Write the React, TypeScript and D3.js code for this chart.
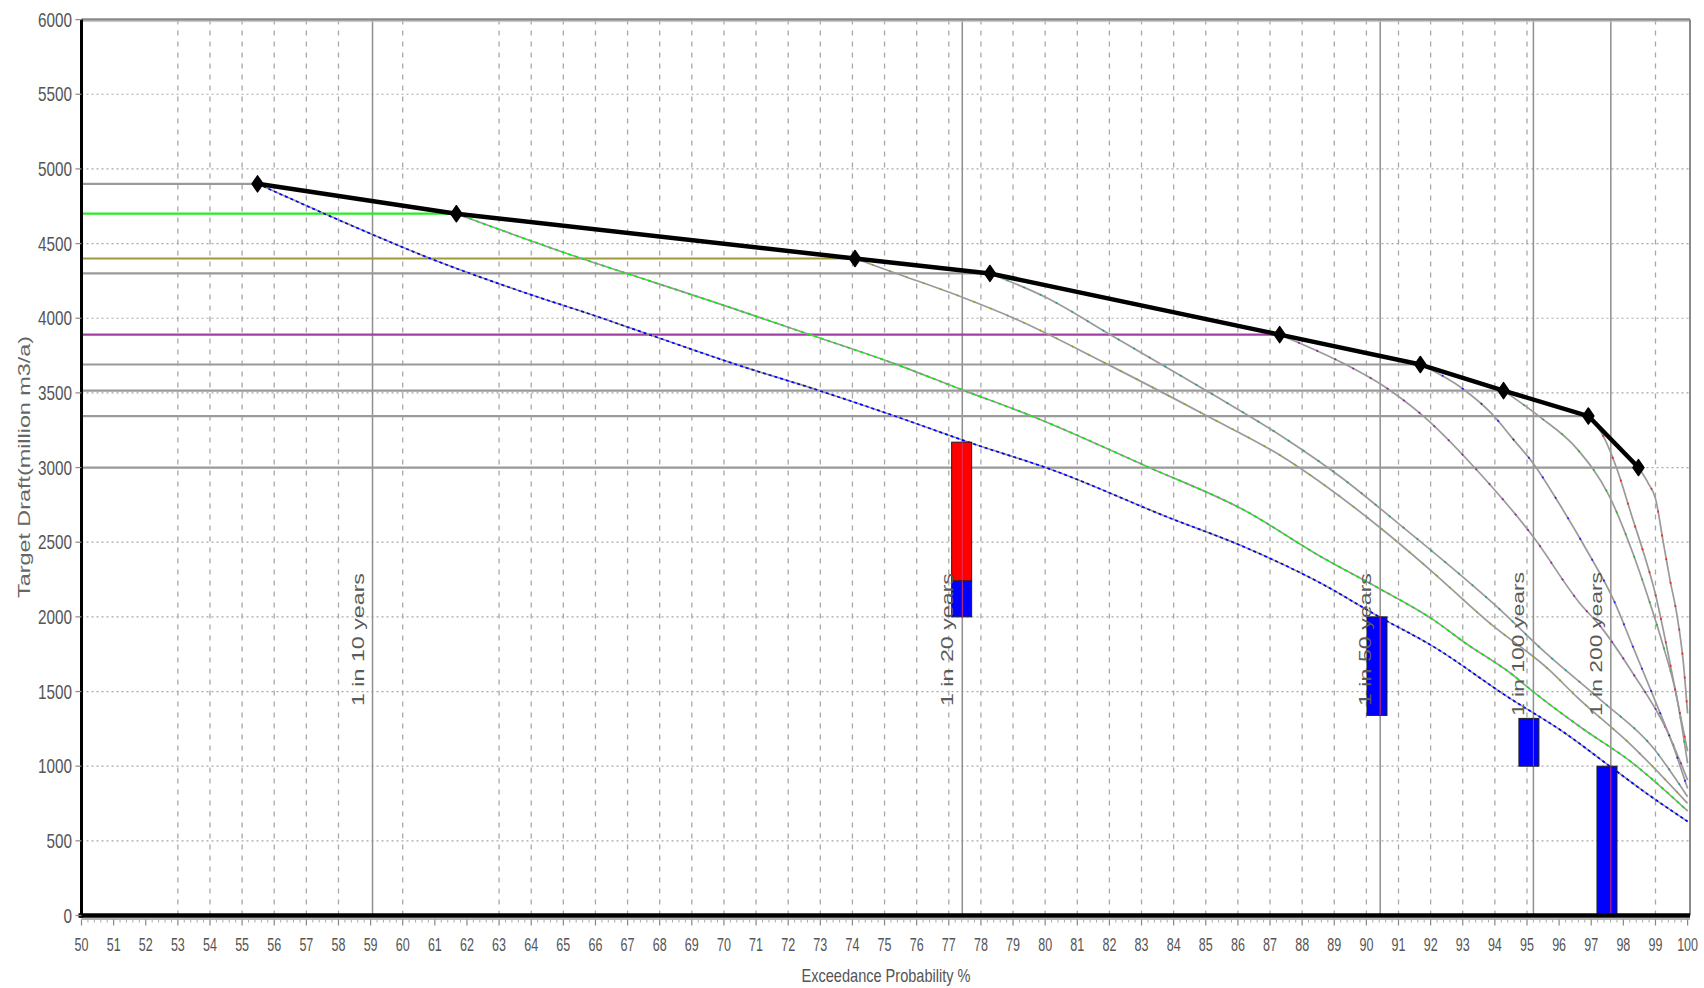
import React from 'react';
import * as d3 from 'd3';

const W = 1704;
const H = 988;

// Axis ticks
const xTickValues = d3.range(50, 101);
const yTickValues = d3.range(0, 6001, 500);
const yGridValues = d3.range(500, 6000, 500);
const xGridValues = [53, 54, 55, 56, 57, 58, 60, 63, 64, 65, 66, 67, 68, 69, 70, 71, 72, 73, 74, 75, 76, 77, 78, 79, 80, 81, 82, 83, 84, 85, 86, 87, 88, 89, 90, 91, 92, 93, 94, 95, 99];

// Envelope (target draft vs exceedance probability)
const envX = [55.48, 61.67, 74.08, 78.28, 87.3, 91.68, 94.27, 96.91, 98.47];
const envY = [4900, 4700, 4400, 4300, 3890, 3690, 3515, 3345, 3000];

// Reliability curves for each target draft
const curve4900: [number, number][] = [[55.48, 4900], [59.0, 4566], [60.8, 4405], [63.6, 4186], [66.1, 4008], [67.8, 3881], [70.3, 3696], [73.0, 3513], [75.4, 3339], [77.6, 3171], [80.25, 2982], [83.8, 2669], [86.2, 2468], [88.6, 2223], [90.4, 2000], [92.1, 1799], [94.4, 1464], [96.2, 1219], [97.6, 996], [98.8, 806], [100, 630]];
const curve4700: [number, number][] = [[61.67, 4700], [65.5, 4405], [67.8, 4242], [70.0, 4086], [72.8, 3881], [75.3, 3696], [77.4, 3522], [79.65, 3339], [83.2, 3004], [86.2, 2714], [88.6, 2401], [90.4, 2190], [92.1, 1978], [93.1, 1822], [94.5, 1621], [95.2, 1498], [96.65, 1264], [98.3, 1019], [100, 700]];
const curve4400: [number, number][] = [[74.08, 4400], [75.5, 4290], [77.4, 4142], [79.06, 3997], [81.9, 3696], [85.0, 3350], [87.4, 3071], [90.4, 2602], [92.0, 2312], [93.85, 1956], [95.7, 1643], [96.55, 1464], [98.3, 1130], [100, 751]];
const curve4300: [number, number][] = [[78.28, 4300], [80.0, 4142], [82.15, 3874], [85.0, 3517], [87.4, 3205], [89.2, 2937], [91.0, 2625], [93.0, 2268], [93.95, 2090], [95.6, 1755], [97.3, 1442], [98.9, 1130], [100, 795]];
const curve3890: [number, number][] = [[87.3, 3890], [89.3, 3696], [90.5, 3551], [91.8, 3339], [93.35, 3004], [95.2, 2535], [96.65, 2090], [97.3, 1933], [98.3, 1621], [99.35, 1242], [100, 907]];
const curve3690: [number, number][] = [[91.68, 3690], [93.0, 3528], [93.9, 3361], [94.6, 3182], [95.2, 3026], [96.0, 2759], [96.86, 2446], [97.7, 2112], [98.3, 1799], [98.94, 1464], [99.56, 1130], [100, 850]];
const curve3515: [number, number][] = [[94.27, 3515], [95.4, 3339], [96.55, 3127], [97.55, 2814], [98.3, 2424], [98.73, 2157], [99.25, 1799], [99.66, 1464], [100, 1019]];
const curve3345: [number, number][] = [[96.91, 3345], [97.4, 3200], [97.8, 2990], [98.3, 2650], [98.6, 2450], [99.0, 2150], [99.35, 1800], [99.7, 1420], [100, 1100]];
const curve3000: [number, number][] = [[98.47, 3000], [98.78, 2893], [99.0, 2792], [99.25, 2491], [99.45, 2250], [99.66, 2023], [99.87, 1688], [100, 1353]];

// Return period markers
const returnLabels = ['1 in 10 years', '1 in 20 years', '1 in 50 years', '1 in 100 years', '1 in 200 years'];
const returnX = [59.06, 77.42, 90.43, 95.2, 97.61];

// Bars (storage shortfall indicators)
const barX = [77.4, 77.4, 90.33, 95.06, 97.49];
const barLow = [2240, 2000, 1340, 1000, 0];
const barHigh = [3170, 2240, 2000, 1320, 1000];
const barFill = ['#ff0000', '#0000ff', '#0000ff', '#0000ff', '#0000ff'];
const barRefLine = [77.42, 77.42, 90.43, 95.2, 97.61];

const x = d3.scaleLinear().domain([50, 100]).range([81.5, 1687.6]);
const y = d3.scaleLinear().domain([0, 6000]).range([915.5, 19.6]);

const PLOT_L = x(50);
const PLOT_R = 1690;
const PLOT_T = y(6000);
const PLOT_B = y(0);

const levelColors = ['#9a9a9a', '#22ee22', '#a09a3a', '#9a9a9a', '#a040a0', '#9a9a9a', '#9a9a9a', '#9a9a9a', '#9a9a9a'];
const curveList = [curve4900, curve4700, curve4400, curve4300, curve3890, curve3690, curve3515, curve3345, curve3000];
const curveDotColor = ['#0000ff', '#00ee00', '#a0a020', '#20a0a0', '#a020a0', '#2020ff', '#20c020', '#ff2020', '#ff2020'];
const curveDash = ['3,3', '3,4', '2,16', '2,16', '2,18', '2,22', '2,22', '2,22', '2,22'];

const line = d3.line<[number, number]>().x(d => x(d[0])).y(d => y(d[1])).curve(d3.curveMonotoneX);
const envLine = d3.line<number>().x((d, i) => x(envX[i])).y((d) => y(d));

const FONT = "'Liberation Sans', Arial, sans-serif";

function Narrow(props: { x: number; y: number; sx: number; size: number; anchor?: string; fill?: string; children: string }) {
  return (
    <text
      transform={`translate(${props.x},${props.y}) scale(${props.sx},1)`}
      textAnchor={props.anchor || 'middle'}
      fontFamily={FONT}
      fontSize={props.size}
      fill={props.fill || '#555'}
    >
      {props.children}
    </text>
  );
}

export default function App() {
  const minorTicks = d3.range(50, 100.001, 0.2).filter(v => Math.abs(v - Math.round(v)) > 0.01);
  return (
    <div style={{ position: 'absolute', left: 0, top: 0, width: W, height: H, background: '#fff', overflow: 'hidden' }}>
      <svg width={W} height={H} style={{ display: 'block' }}>
        <rect x={0} y={0} width={W} height={H} fill="#fff" />

        {/* horizontal dotted grid */}
        {yGridValues.map(v => (
          <line key={'hg' + v} x1={PLOT_L} x2={PLOT_R} y1={y(v)} y2={y(v)} stroke="#a8a8a8" strokeWidth={1.2} strokeDasharray="2,3" />
        ))}
        {/* vertical dotted grid */}
        {xGridValues.map(v => (
          <line key={'vg' + v} x1={x(v)} x2={x(v)} y1={PLOT_T} y2={PLOT_B} stroke="#a8a8a8" strokeWidth={1.3} strokeDasharray="5,6" />
        ))}

        {/* return period vertical lines */}
        {returnX.map((v, i) => (
          <line key={'rl' + i} x1={x(v)} x2={x(v)} y1={PLOT_T} y2={PLOT_B} stroke="#8f8f8f" strokeWidth={1.5} />
        ))}

        {/* level lines */}
        {envY.map((v, i) => (
          <line key={'lv' + i} x1={PLOT_L} x2={x(envX[i])} y1={y(v)} y2={y(v)} stroke={levelColors[i]} strokeWidth={2.2} />
        ))}

        {/* reliability curves */}
        {curveList.map((c, i) => (
          <g key={'cv' + i}>
            <path d={line(c) || ''} fill="none" stroke="#9a9a9a" strokeWidth={1.7} />
            <path d={line(c) || ''} fill="none" stroke={curveDotColor[i]} strokeWidth={1.7} strokeDasharray={curveDash[i]} />
          </g>
        ))}

        {/* bars */}
        {barX.map((v, i) => (
          <g key={'bar' + i}>
            <rect x={x(v) - 10} y={y(barHigh[i])} width={20} height={y(barLow[i]) - y(barHigh[i])} fill={barFill[i]} stroke="#202020" strokeWidth={1} />
            <line x1={x(barRefLine[i])} x2={x(barRefLine[i])} y1={y(barHigh[i])} y2={y(barLow[i])} stroke="#e0305a" strokeWidth={1} />
          </g>
        ))}

        {/* return period labels */}
        {returnLabels.map((t, i) => {
          const tx = x(returnX[i]) - 9;
          const ty = t.length > 13 ? 716 : 706;
          return (
            <text key={'rt' + i} transform={`translate(${tx},${ty}) rotate(-90)`} fontFamily={FONT} fontSize={17} fill="#5a5a5a" textLength={t.length > 13 ? 144 : 133} lengthAdjust="spacingAndGlyphs">{t}</text>
          );
        })}

        {/* envelope */}
        <path d={envLine(envY) || ''} fill="none" stroke="#000" strokeWidth={4.5} strokeLinejoin="round" />
        {envY.map((v, i) => (
          <path key={'mk' + i} transform={`translate(${x(envX[i])},${y(v)})`} d="M0,-8 L5.5,0 L0,8 L-5.5,0 Z" fill="#000" stroke="#000" strokeWidth={1.5} strokeLinejoin="round" />
        ))}

        {/* frame */}
        <line x1={PLOT_L} x2={PLOT_R} y1={PLOT_T} y2={PLOT_T} stroke="#8a8a8a" strokeWidth={2.5} />
        <line x1={PLOT_L} x2={PLOT_R} y1={PLOT_T + 2} y2={PLOT_T + 2} stroke="#c8c8c8" strokeWidth={1} />
        <line x1={PLOT_R} x2={PLOT_R} y1={PLOT_T} y2={PLOT_B} stroke="#8a8a8a" strokeWidth={2} />
        <line x1={PLOT_L} x2={PLOT_L} y1={PLOT_T} y2={PLOT_B + 2} stroke="#000" strokeWidth={3} />
        <line x1={PLOT_L - 3} x2={PLOT_R} y1={PLOT_B} y2={PLOT_B} stroke="#000" strokeWidth={4.5} />
        <line x1={PLOT_L} x2={PLOT_R} y1={PLOT_B + 3.5} y2={PLOT_B + 3.5} stroke="#9a9a9a" strokeWidth={1.5} />

        {/* x ticks */}
        {xTickValues.map(v => (
          <line key={'xt' + v} x1={x(v)} x2={x(v)} y1={PLOT_B + 4} y2={PLOT_B + 10} stroke="#888" strokeWidth={1.2} />
        ))}
        {minorTicks.map((v, i) => (
          <line key={'xm' + i} x1={x(v)} x2={x(v)} y1={PLOT_B + 4} y2={PLOT_B + 7} stroke="#aaa" strokeWidth={1} />
        ))}
        {xTickValues.map(v => (
          <Narrow key={'xl' + v} x={x(v)} y={951} sx={0.66} size={19}>{String(v)}</Narrow>
        ))}

        {/* y ticks */}
        {yTickValues.map(v => (
          <line key={'yt' + v} x1={PLOT_L - 6} x2={PLOT_L} y1={y(v)} y2={y(v)} stroke="#888" strokeWidth={1.2} />
        ))}
        {yTickValues.map(v => (
          <Narrow key={'yl' + v} x={72} y={y(v) + 7} sx={0.765} size={20} anchor="end">{String(v)}</Narrow>
        ))}

        {/* axis titles */}
        <Narrow x={886} y={982} sx={0.766} size={19}>Exceedance Probability %</Narrow>
        <text transform="translate(30,467) rotate(-90)" textAnchor="middle" fontFamily={FONT} fontSize={17} fill="#666" textLength={262} lengthAdjust="spacingAndGlyphs">Target Draft(million m3/a)</text>
      </svg>
    </div>
  );
}
